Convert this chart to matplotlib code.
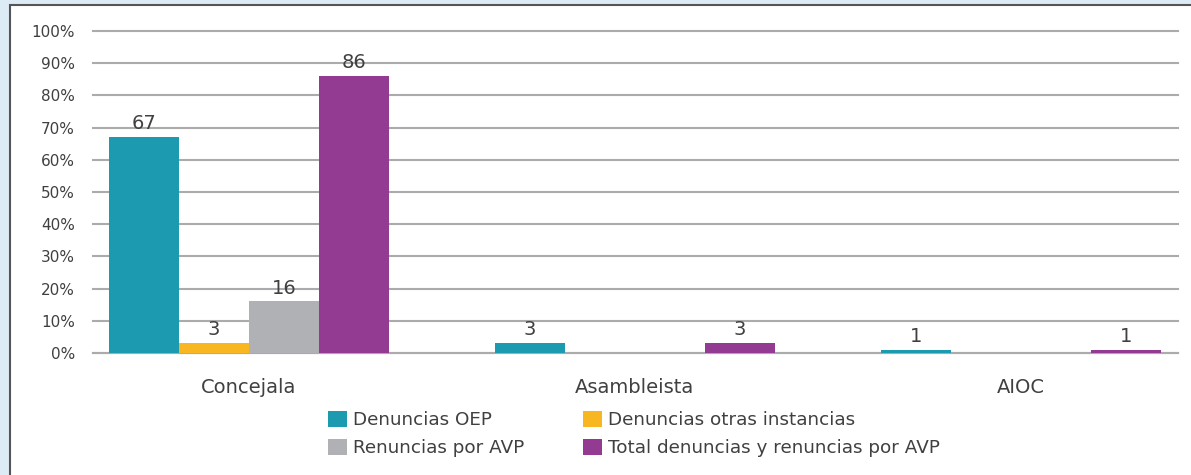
import numpy as np
import matplotlib
matplotlib.use("Agg")
import matplotlib.pyplot as plt
from matplotlib.patches import Rectangle

categorias = ["Concejala", "Asambleista", "AIOC"]
series = ["Denuncias OEP", "Denuncias otras instancias", "Renuncias por AVP",
          "Total denuncias y renuncias por AVP"]
denuncias_oep = [67, 3, 1]
denuncias_otras = [3, 0, 0]
renuncias_avp = [16, 0, 0]
total_avp = [86, 3, 1]
colores = ["#1B9AB0", "#F8B620", "#B0B1B5", "#933B92"]
yticks = [0, 10, 20, 30, 40, 50, 60, 70, 80, 90, 100]

plt.rcParams['font.family'] = ['DejaVu Sans']
texto = "#404040"

fig = plt.figure(figsize=(11.91, 4.75), dpi=100)
fig.patch.set_facecolor("#DDEBF6")
# panel blanco con borde
fig.patches.append(Rectangle((10 / 1191, -0.05), 1.1, 1 - 5 / 475 + 0.05,
                             transform=fig.transFigure, facecolor="white",
                             edgecolor="#555555", linewidth=1.5, zorder=-10))

ax = fig.add_axes([93 / 1191, 1 - 353 / 475, (1178 - 93) / 1191, (353 - 31) / 475])
ax.set_facecolor("none")

x = np.arange(len(categorias))
w = 0.181
datos = [denuncias_oep, denuncias_otras, renuncias_avp, total_avp]
barras = []
for i, (vals, col) in enumerate(zip(datos, colores)):
    pos = x + (i - 1.5) * w
    b = ax.bar(pos, vals, w, color=col, zorder=3, label=series[i])
    barras.append(b)
    for p, v in zip(pos, vals):
        if v > 0:
            ax.text(p, v + 1.2, str(v), ha="center", va="bottom",
                    fontsize=14, color=texto, zorder=4)

ax.set_xlim(-0.404, 2.407)
ax.set_ylim(0, 100)
ax.set_yticks(yticks)
ax.set_yticklabels([f"{t}%" for t in yticks])
ax.set_xticks(x)
ax.set_xticklabels(categorias)
ax.yaxis.grid(True, color="#ABABAB", linewidth=1.5, zorder=0)
for gl in ax.get_ygridlines():
    gl.set_clip_on(False)
ax.set_axisbelow(True)
for s in ["top", "right", "left"]:
    ax.spines[s].set_visible(False)
ax.spines["bottom"].set_color("#ABABAB")
ax.spines["bottom"].set_linewidth(1.5)
ax.tick_params(axis="both", length=0, colors=texto)
ax.tick_params(axis="y", pad=13, labelsize=11)
ax.tick_params(axis="x", pad=18, labelsize=14)

orden = [0, 2, 1, 3]
leg = fig.legend([barras[i] for i in orden], [series[i] for i in orden],
                 ncol=2, loc="center", bbox_to_anchor=(634 / 1191, 1 - 434 / 475),
                 frameon=False, fontsize=13.2, handlelength=1.04, handleheight=1.0,
                 columnspacing=3.2, labelspacing=0.5, handletextpad=0.33)
for t in leg.get_texts():
    t.set_color(texto)

fig.savefig("out.png", dpi=100, facecolor=fig.get_facecolor())
